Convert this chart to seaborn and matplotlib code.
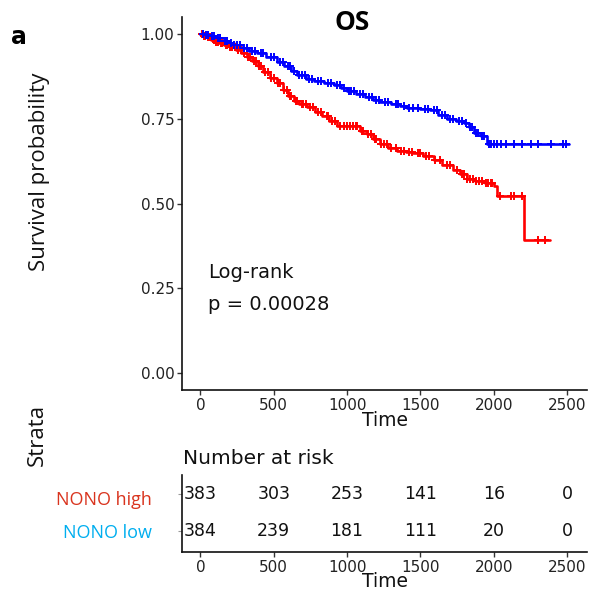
import numpy as np
import pandas as pd
import matplotlib
matplotlib.use("Agg")
import matplotlib.pyplot as plt
import seaborn as sns

# ---------------- data ----------------
high_times = [0, 20, 45, 70, 100, 130, 160, 200, 240, 280, 318, 350, 390, 430, 477, 520,
              560, 600, 636, 670, 730, 780, 830, 880, 931, 1090, 1135, 1180, 1226, 1280,
              1340, 1400, 1452, 1520, 1589, 1650, 1725, 1770, 1817, 1870, 1940, 2000,
              2021, 2203, 2380]
high_surv = [1.0, 0.995, 0.99, 0.983, 0.977, 0.972, 0.968, 0.962, 0.953, 0.943, 0.933,
             0.921, 0.905, 0.889, 0.871, 0.855, 0.836, 0.816, 0.801, 0.792, 0.785, 0.770,
             0.757, 0.742, 0.728, 0.715, 0.704, 0.690, 0.674, 0.664, 0.655, 0.652, 0.648,
             0.640, 0.628, 0.615, 0.600, 0.588, 0.572, 0.565, 0.560, 0.552, 0.523, 0.391,
             0.391]
low_times = [0, 30, 60, 100, 150, 190, 227, 280, 330, 386, 450, 522, 570, 620, 659, 720,
             772, 840, 909, 960, 999, 1060, 1120, 1180, 1226, 1300, 1360, 1408, 1500, 1567,
             1620, 1681, 1740, 1795, 1830, 1863, 1910, 1954, 2510]
low_surv = [1.0, 0.997, 0.993, 0.988, 0.979, 0.973, 0.966, 0.958, 0.951, 0.943, 0.932,
            0.918, 0.905, 0.891, 0.880, 0.868, 0.860, 0.855, 0.848, 0.840, 0.831, 0.822,
            0.814, 0.806, 0.800, 0.793, 0.787, 0.782, 0.779, 0.776, 0.762, 0.748, 0.742,
            0.737, 0.725, 0.709, 0.700, 0.674, 0.674]
high_censor = [10, 25, 35, 55, 65, 90, 110, 120, 140, 150, 175, 185, 200, 215, 235, 260,
               275, 300, 325, 340, 365, 380, 400, 410, 440, 460, 480, 500, 530, 545, 570,
               590, 610, 620, 650, 660, 690, 700, 720, 750, 770, 800, 820, 860, 870, 900,
               920, 950, 980, 1000, 1020, 1040, 1060, 1070, 1100, 1110, 1140, 1160, 1190,
               1200, 1230, 1250, 1270, 1300, 1330, 1370, 1390, 1420, 1440, 1480, 1500,
               1540, 1560, 1600, 1630, 1680, 1700, 1750, 1780, 1800, 1820, 1840, 1860,
               1880, 1900, 1920, 1950, 1960, 1980, 1990, 2040, 2120, 2140, 2190, 2300,
               2350]
low_censor = [15, 40, 50, 80, 95, 120, 135, 170, 180, 210, 230, 250, 270, 300, 320, 350,
              370, 410, 430, 480, 500, 540, 560, 600, 610, 640, 670, 690, 710, 740, 760,
              800, 820, 870, 890, 930, 950, 980, 1010, 1030, 1050, 1090, 1110, 1150, 1170,
              1200, 1220, 1260, 1280, 1330, 1350, 1390, 1420, 1450, 1480, 1530, 1550,
              1590, 1610, 1650, 1670, 1700, 1720, 1760, 1780, 1810, 1840, 1850, 1880,
              1890, 1920, 1930, 1970, 1980, 2000, 2020, 2050, 2080, 2140, 2190, 2250,
              2300, 2390, 2470, 2490]

risk_times = [0, 500, 1000, 1500, 2000, 2500]
risk_high = [383, 303, 253, 141, 16, 0]
risk_low = [384, 239, 181, 111, 20, 0]

groups = ["NONO high", "NONO low"]
line_colors = {"NONO high": "#FF0000", "NONO low": "#0000FF"}
label_colors = {"NONO high": "#D9341E", "NONO low": "#00AEEF"}

# ---------------- frames ----------------
curve = pd.concat([
    pd.DataFrame({"time": high_times, "surv": high_surv, "group": "NONO high"}),
    pd.DataFrame({"time": low_times, "surv": low_surv, "group": "NONO low"}),
], ignore_index=True)


def censor_y(times, surv, cens):
    t = np.asarray(times)
    s = np.asarray(surv)
    idx = np.searchsorted(t, np.asarray(cens), side="right") - 1
    return s[idx]


cens = pd.concat([
    pd.DataFrame({"time": high_censor, "surv": censor_y(high_times, high_surv, high_censor),
                  "group": "NONO high"}),
    pd.DataFrame({"time": low_censor, "surv": censor_y(low_times, low_surv, low_censor),
                  "group": "NONO low"}),
], ignore_index=True)

# ---------------- figure ----------------
sns.set_theme(style="ticks")
plt.rcParams["font.family"] = ["DejaVu Sans"]
W, H = 592, 597
fig = plt.figure(figsize=(W / 100, H / 100), dpi=100)

def fx(px):
    return px / W

def fy(py):
    return 1 - py / H

ax = fig.add_axes([fx(182), fy(390), fx(587) - fx(182), fy(17) - fy(390)])
for g in groups:
    d = curve[curve.group == g]
    sns.lineplot(data=d, x="time", y="surv", ax=ax, color=line_colors[g], lw=1.9,
                 drawstyle="steps-post", estimator=None, sort=False, legend=False)
    c = cens[cens.group == g]
    sns.scatterplot(data=c, x="time", y="surv", ax=ax, color=line_colors[g], marker="+",
                    s=32, linewidth=1.4, legend=False, zorder=3)

ax.set_xlim(-125, 2635)
ax.set_ylim(-0.05, 1.05)
ax.set_xticks(risk_times)
ax.set_yticks([0, 0.25, 0.5, 0.75, 1.0])
ax.set_yticklabels(["0.00", "0.25", "0.50", "0.75", "1.00"])
ax.tick_params(axis="both", labelsize=11, length=3.5, width=1, color="#333333",
               labelcolor="#222222", pad=2)
ax.set_xlabel("Time", fontsize=13.5, labelpad=-1, color="#111111")
ax.set_ylabel("")
for sp in ["top", "right"]:
    ax.spines[sp].set_visible(False)
for sp in ["left", "bottom"]:
    ax.spines[sp].set_linewidth(1.2)
    ax.spines[sp].set_color("#111111")

fig.text(fx(208), fy(272), "Log-rank", fontsize=14, va="center", ha="left", color="#111111")
fig.text(fx(208), fy(305), "p = 0.00028", fontsize=14, va="center", ha="left", color="#111111")

fig.text(fx(352), fy(22), "OS", fontsize=19, fontweight="bold", ha="center", va="center",
         family=["Open Sans", "DejaVu Sans"], color="black")
fig.text(fx(19), fy(37), "a", fontsize=17, fontweight="bold", ha="center", va="center",
         family=["DejaVu Sans"], color="black")
fig.text(fx(40), fy(172), "Survival probability", fontsize=16, rotation=90, ha="center",
         va="center", family=["Open Sans", "DejaVu Sans"], color="#111111")
fig.text(fx(37), fy(435), "Strata", fontsize=16, rotation=90, ha="center",
         va="center", family=["Open Sans", "DejaVu Sans"], color="#111111")

# ---------------- risk table ----------------
ax2 = fig.add_axes([fx(182), fy(552), fx(587) - fx(182), fy(475) - fy(552)])
ax2.set_xlim(-125, 2635)
ax2.set_ylim(0.43, 2.51)
for t, n in zip(risk_times, risk_high):
    ax2.text(t, 2, str(n), ha="center", va="center", fontsize=12.5, color="#111111")
for t, n in zip(risk_times, risk_low):
    ax2.text(t, 1, str(n), ha="center", va="center", fontsize=12.5, color="#111111")
ax2.set_xticks(risk_times)
ax2.set_yticks([1, 2])
ax2.set_yticklabels([])
ax2.tick_params(axis="x", labelsize=11, length=3.5, width=1, color="#333333",
                labelcolor="#222222", pad=2)
ax2.tick_params(axis="y", length=3, width=0.8, color="#999999")
ax2.set_xlabel("Time", fontsize=13.5, labelpad=-2, color="#111111")
for sp in ["top", "right"]:
    ax2.spines[sp].set_visible(False)
for sp in ["left", "bottom"]:
    ax2.spines[sp].set_linewidth(1.2)
    ax2.spines[sp].set_color("#111111")

fig.text(fx(183), fy(458), "Number at risk", fontsize=14.5, ha="left", va="center",
         color="#111111")
fig.text(fx(152), fy(500), "NONO high", fontsize=13, ha="right", va="center",
         color=label_colors["NONO high"], family=["Open Sans", "DejaVu Sans"])
fig.text(fx(152), fy(533), "NONO low", fontsize=13, ha="right", va="center",
         color=label_colors["NONO low"], family=["Open Sans", "DejaVu Sans"])

fig.savefig("out.png", dpi=100, facecolor="white")
